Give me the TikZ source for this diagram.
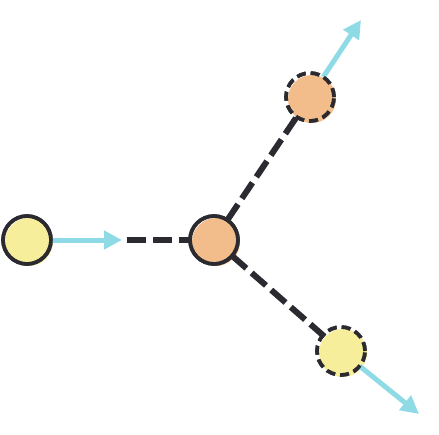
\documentclass[tikz,border=0pt]{standalone}
\usetikzlibrary{arrows.meta,calc}
\definecolor{ink}{HTML}{2A2A30}
\definecolor{yel}{HTML}{F6EE9A}
\definecolor{ora}{HTML}{F2BD8A}
\definecolor{sky}{HTML}{8FDBE5}
\tikzset{
  ball/.style={circle,minimum size=48pt,inner sep=0pt,draw=ink,line width=3.6pt},
  solidball/.style={ball},
  dashball/.style={ball,dash pattern=on 9pt off 5pt},
  link/.style={draw=ink,line width=6pt,dash pattern=on 19pt off 7pt},
  vel/.style={draw=sky,line width=5pt,-{Triangle[length=18pt,width=18pt]}},
}
\begin{document}
\begin{tikzpicture}[x=1pt,y=-1pt]
\useasboundingbox (0,0) rectangle (439,434);
% fills, slightly offset
\fill[yel] (29,242) circle (24);
\fill[ora] (216,242) circle (24);
\fill[ora] (312,99) circle (24);
\fill[yel] (343,353) circle (24);
% nodes
\node[solidball] (L) at (27,240) {};
\node[solidball] (C) at (214,240) {};
\node[dashball] (T) at (310,97) {};
\node[dashball] (B) at (341,351) {};
\coordinate (tipL) at (122,240);
\coordinate (startL) at (127,240);
\coordinate (tipT) at (361,20);
\coordinate (tipB) at (419,414);
% links
\draw[link] (startL) -- ($(C)!24pt!(L)$);
\draw[link] ($(C)!24pt!(T)$) -- ($(T)!22pt!(C)$);
\draw[link] ($(C)!24pt!(B)$) -- ($(B)!22pt!(C)$);
% velocity arrows
\draw[vel] ($(L)!24pt!(tipL)$) -- (tipL);
\draw[vel] ($(T)!24pt!(tipT)$) -- (tipT);
\draw[vel] ($(B)!24pt!(tipB)$) -- (tipB);
% redraw node outlines on top
\node[solidball] at (27,240) {};
\node[solidball] at (214,240) {};
\node[dashball] at (310,97) {};
\node[dashball] at (341,351) {};
\end{tikzpicture}
\end{document}
